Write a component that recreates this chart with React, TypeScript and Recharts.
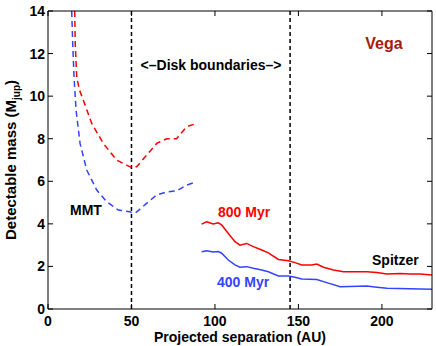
import { LineChart, Line, XAxis, YAxis, ReferenceLine, Customized } from 'recharts';

const xTicks = [0, 50, 100, 150, 200];
const yTicks = [0, 2, 4, 6, 8, 10, 12, 14];
const diskEdges = [50, 145];

// MMT, dashed
const mmt800X = [16.0, 16.3, 17.2, 18.8, 21.1, 26.2, 33.1, 41.1, 49.1, 51, 53.1, 59.1, 65.1, 71.1, 77, 83, 89];
const mmt800Y = [14, 12.5, 10.9, 10.3, 9.82, 8.72, 7.78, 7.0, 6.68, 6.64, 6.68, 7.23, 7.78, 8.0, 8.0, 8.56, 8.72];
const mmt400X = [14.2, 14.8, 15.6, 16.8, 19.2, 23.2, 29.2, 35.1, 42.1, 49.1, 51, 53, 59, 65, 71, 77, 83, 89];
const mmt400Y = [14, 12.48, 10.9, 9.35, 7.78, 6.53, 5.59, 5.04, 4.65, 4.57, 4.5, 4.55, 4.96, 5.35, 5.5, 5.55, 5.82, 5.98];

// Spitzer, solid
const sp800X = [92, 95, 99, 102, 104, 108, 112, 115, 119, 123, 128, 132, 138, 144, 148, 152, 158, 161, 165, 171, 177, 191, 197, 203, 211, 217, 223, 230];
const sp800Y = [3.99, 4.1, 3.99, 4.05, 3.95, 3.55, 3.16, 3.0, 3.08, 2.93, 2.77, 2.64, 2.33, 2.27, 2.18, 2.07, 2.07, 2.11, 1.96, 1.83, 1.75, 1.75, 1.72, 1.64, 1.67, 1.64, 1.64, 1.6];
const sp400X = [92, 95, 99, 102, 104, 108, 112, 115, 119, 123, 128, 132, 138, 144, 148, 152, 161, 167, 175, 191, 197, 203, 230];
const sp400Y = [2.69, 2.74, 2.68, 2.7, 2.62, 2.3, 2.07, 1.96, 1.99, 1.91, 1.83, 1.75, 1.55, 1.55, 1.49, 1.41, 1.39, 1.24, 1.05, 1.08, 1.02, 0.97, 0.93];

const pts = (xs: number[], ys: number[]) => xs.map((x, i) => ({ x, y: ys[i] }));

const RED = '#ff0000';
const BLUE = '#3344ff';
const FONT = '"Liberation Sans", Arial, Helvetica, sans-serif';
const tickStyle = { fill: '#000', fontSize: 14, fontWeight: 'bold' as const, fontFamily: FONT };

const Notes = () => (
  <g fontFamily={FONT} fontWeight="bold" fontSize={14}>
    <text x={211} y={70} textAnchor="middle" fill="#000">{'<–Disk boundaries–>'}</text>
    <text x={384} y={49} textAnchor="middle" fill="#a31c0c" fontSize={16}>Vega</text>
    <text x={70} y={215} fill="#000">MMT</text>
    <text x={218} y={217} fill={RED}>800 Myr</text>
    <text x={217} y={287} fill={BLUE}>400 Myr</text>
    <text x={372} y={265} fill="#000">Spitzer</text>
    <text x={240} y={342} textAnchor="middle" fill="#000">Projected separation (AU)</text>
    <text transform="translate(16,160) rotate(-90)" textAnchor="middle" fill="#000" fontSize={15}>
      Detectable mass (M<tspan dy={4} fontSize={10}>jup</tspan><tspan dy={-4}>)</tspan>
    </text>
  </g>
);

export default function App() {
  return (
    <div style={{ position: 'absolute', left: 0, top: 0, background: '#fff' }}>
      <LineChart width={436} height={346} margin={{ top: 10, right: 3, bottom: 15, left: 0 }}>
        <XAxis dataKey="x" type="number" domain={[0, 230]} ticks={xTicks} allowDataOverflow
          tickSize={-5} tickMargin={12} height={22} axisLine={{ stroke: '#000' }} tickLine={{ stroke: '#000' }} tick={tickStyle} />
        <XAxis xAxisId="top" orientation="top" dataKey="x" type="number" domain={[0, 230]} ticks={xTicks} allowDataOverflow
          tickSize={-5} height={1} tickFormatter={() => ''} axisLine={{ stroke: '#000' }} tickLine={{ stroke: '#000' }} />
        <YAxis type="number" domain={[0, 14]} ticks={yTicks} allowDataOverflow
          tickSize={-5} tickMargin={8} width={48} axisLine={{ stroke: '#000' }} tickLine={{ stroke: '#000' }} tick={tickStyle} />
        <YAxis yAxisId="right" orientation="right" type="number" domain={[0, 14]} ticks={yTicks} allowDataOverflow
          tickSize={-5} width={1} tickFormatter={() => ''} axisLine={{ stroke: '#000' }} tickLine={{ stroke: '#000' }} />
        {diskEdges.map((d) => (
          <ReferenceLine key={d} x={d} stroke="#000" strokeWidth={1.5} strokeDasharray="4 3" />
        ))}
        <Line data={pts(mmt800X, mmt800Y)} dataKey="y" stroke={RED} strokeWidth={1.5} strokeDasharray="6 4" dot={false} isAnimationActive={false} />
        <Line data={pts(mmt400X, mmt400Y)} dataKey="y" stroke={BLUE} strokeWidth={1.5} strokeDasharray="6 4" dot={false} isAnimationActive={false} />
        <Line data={pts(sp800X, sp800Y)} dataKey="y" stroke={RED} strokeWidth={1.5} dot={false} isAnimationActive={false} />
        <Line data={pts(sp400X, sp400Y)} dataKey="y" stroke={BLUE} strokeWidth={1.5} dot={false} isAnimationActive={false} />
        <Customized component={Notes} />
      </LineChart>
    </div>
  );
}
